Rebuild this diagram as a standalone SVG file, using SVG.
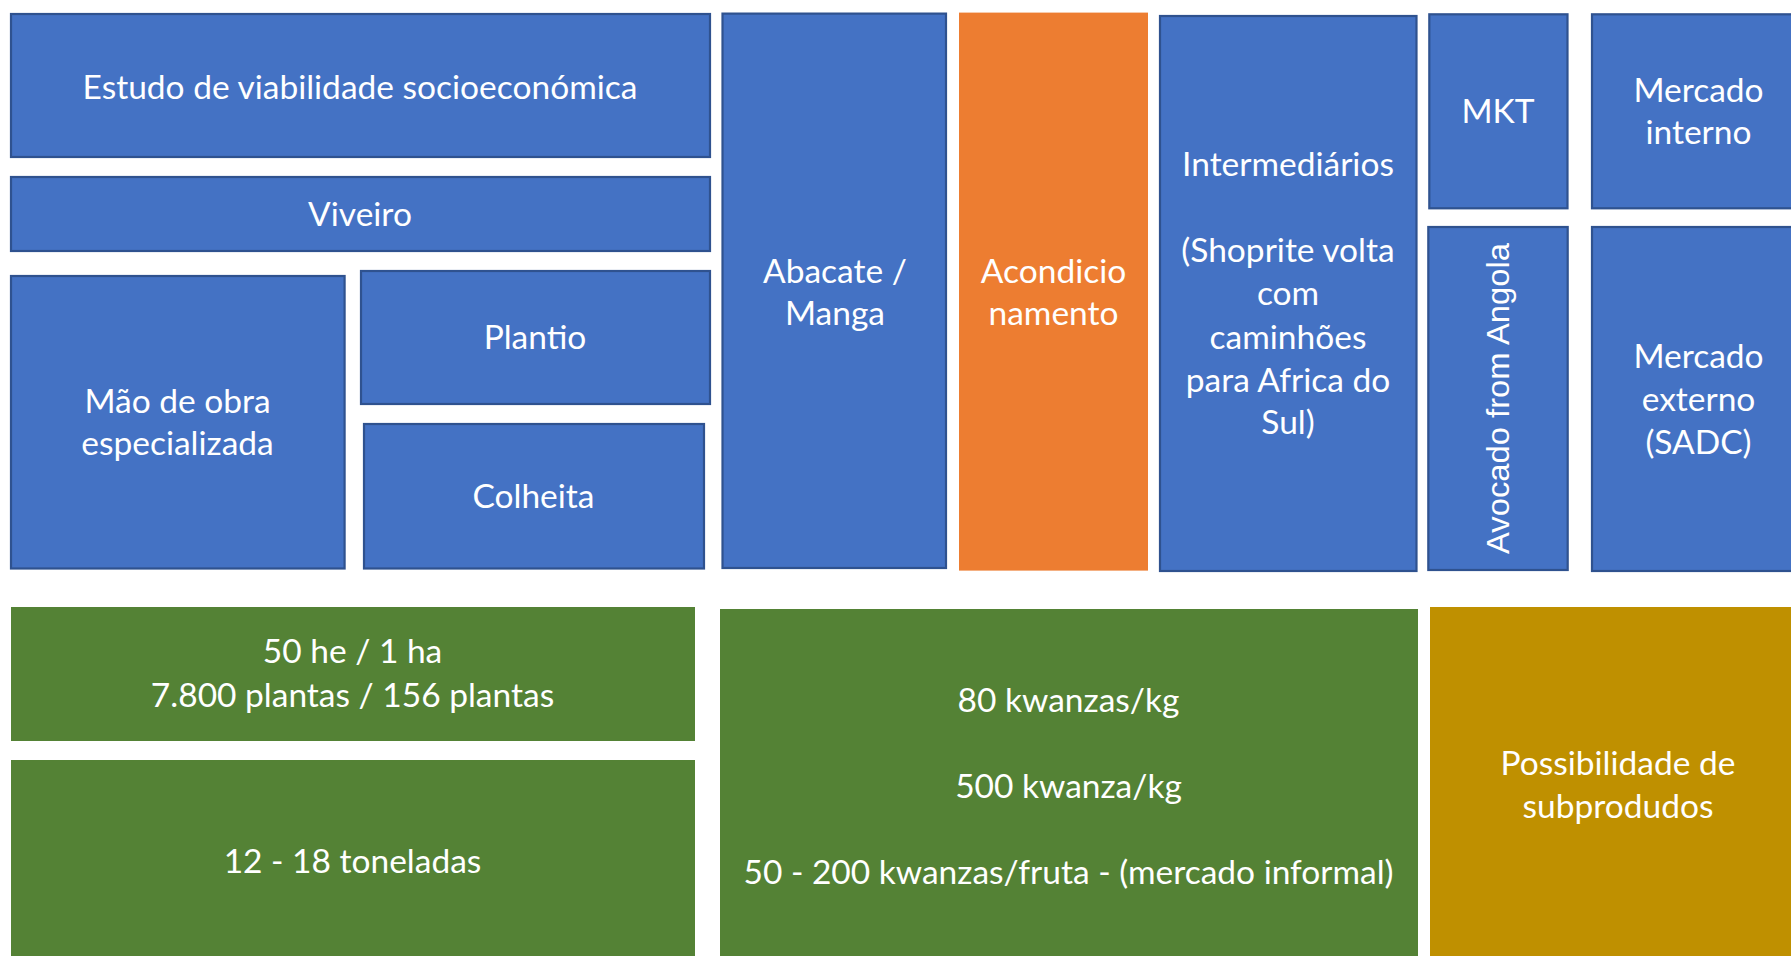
<svg xmlns="http://www.w3.org/2000/svg" width="1791" height="956" viewBox="0 0 1791 956">
<style>
.b{fill:#4472C4;stroke:#2F528F;stroke-width:2.2}
.o{fill:#ED7D31}
.g{fill:#548235}
.y{fill:#BF9000}
text{font-family:Lato,"Liberation Sans",sans-serif;font-size:33.5px;fill:#FFFFFF;text-anchor:middle}
.r{font-family:"Liberation Sans",Arial,sans-serif;font-size:32px}
</style>
<rect width="1791" height="956" fill="#FFFFFF"/>
<g id="estudo"><rect class="b" x="11" y="14" width="699" height="143"/><text x="360" y="99">Estudo de viabilidade socioeconómica</text></g>
<g id="viveiro"><rect class="b" x="11" y="177" width="699" height="74"/><text x="360" y="226">Viveiro</text></g>
<g id="mao"><rect class="b" x="11" y="276" width="333.6" height="292.5"/><text x="177.5" y="413">Mão de obra</text><text x="177.5" y="455">especializada</text></g>
<g id="plantio"><rect class="b" x="361" y="271" width="349" height="133"/><text x="535" y="349">Plantio</text></g>
<g id="colheita"><rect class="b" x="364" y="424" width="340" height="144.5"/><text x="533.5" y="508">Colheita</text></g>
<g id="abacate"><rect class="b" x="722.5" y="13.6" width="223.5" height="554.4"/><text x="835" y="282.5">Abacate /</text><text x="835" y="324.5">Manga</text></g>
<g id="acondicionamento"><rect class="o" x="959" y="12.6" width="189" height="558"/><text x="1053.5" y="282.5">Acondicio</text><text x="1053.5" y="325">namento</text></g>
<g id="intermediarios"><rect class="b" x="1160" y="16" width="256.5" height="555"/><text x="1288" y="175.5">Intermediários</text><text x="1288" y="262">(Shoprite volta</text><text x="1288" y="305.3">com</text><text x="1288" y="348.6">caminhões</text><text x="1288" y="391.5">para Africa do</text><text x="1288" y="434">Sul)</text></g>
<g id="mkt"><rect class="b" x="1429.3" y="14.3" width="138.2" height="194"/><text x="1498" y="123.3">MKT</text></g>
<g id="mercado-interno"><rect class="b" x="1592" y="14.3" width="250" height="194"/><text x="1698.5" y="101.7">Mercado</text><text x="1698.5" y="144">interno</text></g>
<g id="avocado"><rect class="b" x="1428.3" y="227" width="139.4" height="343"/><text class="r" transform="translate(1509.3 398.5) rotate(-90)" x="0" y="0" textLength="311" lengthAdjust="spacingAndGlyphs">Avocado from Angola</text></g>
<g id="mercado-externo"><rect class="b" x="1592" y="227" width="250" height="344"/><text x="1698.5" y="368">Mercado</text><text x="1698.5" y="411">externo</text><text x="1698.5" y="454">(SADC)</text></g>
<g id="area"><rect class="g" x="11" y="607" width="684" height="134"/><text x="352.5" y="663.3">50 he / 1 ha</text><text x="352.5" y="706.7">7.800 plantas / 156 plantas</text></g>
<g id="toneladas"><rect class="g" x="11" y="760" width="684" height="200"/><text x="352.5" y="873.3">12 - 18 toneladas</text></g>
<g id="precos"><rect class="g" x="720" y="609" width="698" height="350"/><text x="1068.5" y="711.7">80 kwanzas/kg</text><text x="1068.5" y="797.5">500 kwanza/kg</text><text x="1068.5" y="884">50 - 200 kwanzas/fruta - (mercado informal)</text></g>
<g id="subprodutos"><rect class="y" x="1430" y="607" width="400" height="352"/><text x="1618" y="775">Possibilidade de</text><text x="1618" y="818.3">subprodudos</text></g>
<g id="connectors"></g>
</svg>
